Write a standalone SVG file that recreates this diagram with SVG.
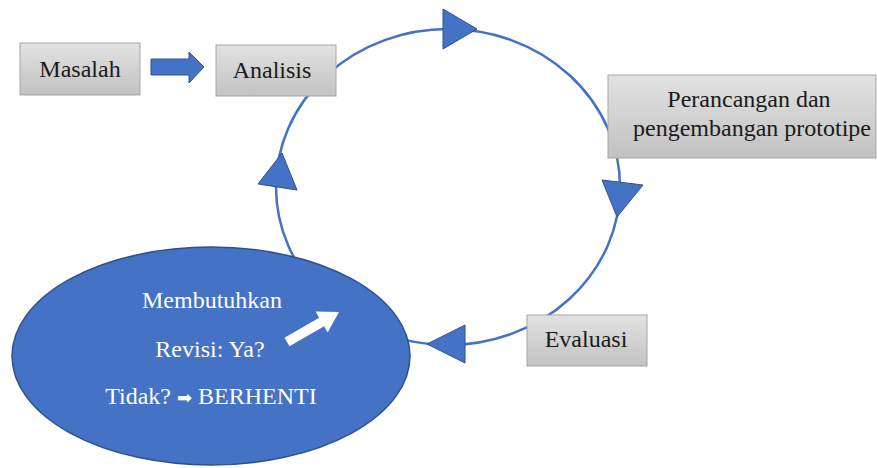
<svg xmlns="http://www.w3.org/2000/svg" width="877" height="468" viewBox="0 0 877 468">
<style>
.box{fill:url(#g);stroke:#a6a6a6;stroke-width:1}
.t{font-family:'Liberation Serif','Times New Roman',serif;font-size:24px;fill:#1a1a1a;text-anchor:middle}
.w{font-family:'Liberation Serif','Times New Roman',serif;font-size:24px;fill:#ffffff;text-anchor:middle}
.head{fill:#4472c4;stroke:#2f528f;stroke-width:1}
.ring{fill:none;stroke:#4472c4;stroke-width:2.5}
</style>
<defs>
<linearGradient id="g" x1="0" y1="0" x2="0" y2="1">
<stop offset="0" stop-color="#e2e2e2"/>
<stop offset="1" stop-color="#c2c2c2"/>
</linearGradient>
</defs>
<rect width="877" height="468" fill="#ffffff"/>
<g id="connectors">
<ellipse class="ring" cx="448" cy="187" rx="172" ry="158"/>
<polygon class="head" points="443,9 477,29 443,49"/>
<polygon class="head" points="602,180 643,185 617,217"/>
<polygon class="head" points="427,344 465,325 465,363"/>
<polygon class="head" points="282,153 258,184 297,190"/>
<polygon class="head" points="151,59 189,59 189,52 204,67 189,83 189,75 151,75"/>
</g>
<g id="masalah">
<rect class="box" x="20" y="43" width="120" height="52"/>
<text class="t" x="80" y="77">Masalah</text>
</g>
<g id="analisis">
<rect class="box" x="216" y="45" width="120" height="51"/>
<text class="t" x="272" y="78">Analisis</text>
</g>
<g id="perancangan">
<rect class="box" x="608" y="75" width="268" height="83"/>
<text class="t" x="749" y="107">Perancangan dan</text>
<text class="t" x="752" y="136">pengembangan prototipe</text>
</g>
<g id="evaluasi">
<rect class="box" x="527" y="315" width="120" height="51"/>
<text class="t" x="586" y="347">Evaluasi</text>
</g>
<g id="keputusan">
<ellipse cx="211" cy="356" rx="199" ry="109" fill="#4472c4" stroke="#2f528f" stroke-width="1.5"/>
<text class="w" x="212" y="308">Membutuhkan</text>
<text class="w" x="210" y="357">Revisi: Ya?</text>
<text class="w" x="211" y="404">Tidak? <tspan font-family="'DejaVu Sans',sans-serif" font-size="18">➡</tspan> BERHENTI</text>
<polygon points="0,-5 40,-5 40,-12 60,0 40,12 40,5 0,5" fill="#ffffff" transform="translate(287,342) rotate(-30)"/>
</g>
</svg>
